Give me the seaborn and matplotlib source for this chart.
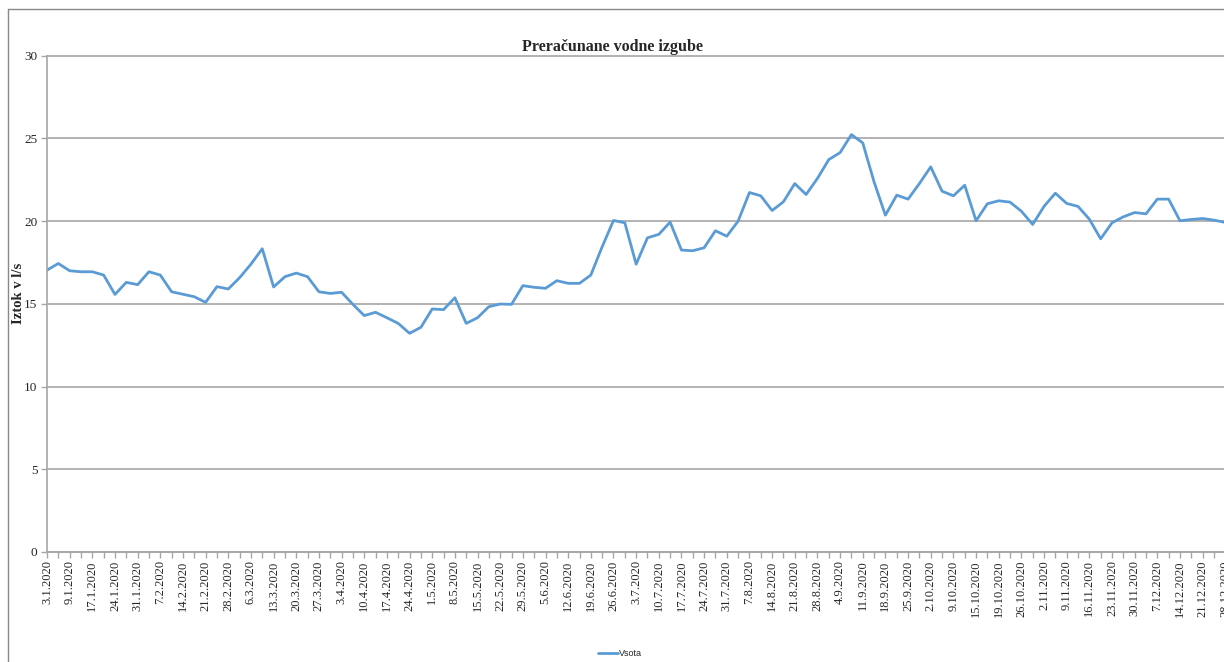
import numpy as np
import pandas as pd
import matplotlib
matplotlib.use('Agg')
import matplotlib.pyplot as plt
from matplotlib.lines import Line2D
import seaborn as sns

# Category labels shown on the axis (every second point is labelled)
date_labels = ['3.1.2020', '9.1.2020', '17.1.2020', '24.1.2020', '31.1.2020', '7.2.2020',
               '14.2.2020', '21.2.2020', '28.2.2020', '6.3.2020', '13.3.2020', '20.3.2020',
               '27.3.2020', '3.4.2020', '10.4.2020', '17.4.2020', '24.4.2020', '1.5.2020',
               '8.5.2020', '15.5.2020', '22.5.2020', '29.5.2020', '5.6.2020', '12.6.2020',
               '19.6.2020', '26.6.2020', '3.7.2020', '10.7.2020', '17.7.2020', '24.7.2020',
               '31.7.2020', '7.8.2020', '14.8.2020', '21.8.2020', '28.8.2020', '4.9.2020',
               '11.9.2020', '18.9.2020', '25.9.2020', '2.10.2020', '9.10.2020', '15.10.2020',
               '19.10.2020', '26.10.2020', '2.11.2020', '9.11.2020', '16.11.2020', '23.11.2020',
               '30.11.2020', '7.12.2020', '14.12.2020', '21.12.2020', '28.12.2020']

# Vsota (l/s)
vsota = [17.04, 17.44, 17.00, 16.94, 16.94, 16.74, 15.57, 16.30, 16.16, 16.94,
         16.74, 15.73, 15.58, 15.43, 15.09, 16.04, 15.90, 16.58, 17.40, 18.33,
         16.02, 16.64, 16.86, 16.64, 15.73, 15.63, 15.70, 14.97, 14.29, 14.49,
         14.16, 13.82, 13.22, 13.58, 14.69, 14.65, 15.37, 13.82, 14.16, 14.83,
         14.99, 14.97, 16.10, 16.00, 15.94, 16.40, 16.24, 16.24, 16.74, 18.45,
         20.04, 19.90, 17.40, 18.99, 19.20, 19.94, 18.25, 18.21, 18.39, 19.42,
         19.09, 20.00, 21.73, 21.53, 20.64, 21.17, 22.27, 21.61, 22.58, 23.72,
         24.14, 25.23, 24.73, 22.37, 20.36, 21.57, 21.33, 22.27, 23.28, 21.81,
         21.53, 22.17, 20.02, 21.05, 21.23, 21.15, 20.60, 19.80, 20.89, 21.69,
         21.07, 20.89, 20.12, 18.93, 19.90, 20.26, 20.52, 20.44, 21.33, 21.33,
         20.02, 20.10, 20.16, 20.06, 19.92]

df = pd.DataFrame({'idx': np.arange(len(vsota)), 'Vsota': vsota})

sns.set_style('white')
plt.rcParams['font.family'] = ['Liberation Serif', 'DejaVu Serif']

W, H = 1224, 662
fig = plt.figure(figsize=(W / 100, H / 100), dpi=100)
ax = fig.add_axes([47 / W, 1 - 552 / H, (1225.3 - 47) / W, (552 - 55.7) / H])

line_color = '#5B9BD5'
grid_color = '#A6A6A6'

sns.lineplot(data=df, x='idx', y='Vsota', ax=ax, color=line_color, linewidth=2, legend=False)

ax.set_xlim(0, len(vsota) - 1)
ax.set_ylim(0, 30)
ax.set_yticks(range(0, 31, 5))
ax.set_yticklabels([str(v) for v in range(0, 31, 5)], fontsize=9.5)
ax.yaxis.grid(True, color=grid_color, linewidth=1.2)
ax.xaxis.grid(False)
for gl in ax.get_ygridlines():
    gl.set_clip_on(False)

ax.set_xticks(range(0, len(vsota), 2))
ax.set_xticklabels(date_labels, rotation=90, fontsize=9)
ax.set_xticks(range(1, len(vsota), 2), minor=True)
ax.tick_params(axis='x', which='both', direction='out', length=4, width=1,
               color=grid_color, pad=2, bottom=True)
ax.tick_params(axis='y', direction='out', length=4, width=1, color=grid_color, pad=3, left=True)

for side in ['top', 'right']:
    ax.spines[side].set_visible(False)
for side in ['left', 'bottom']:
    ax.spines[side].set_color(grid_color)
    ax.spines[side].set_linewidth(1.2)

ax.set_xlabel('')
ax.set_ylabel('')

fig.text(612 / W, 1 - 47 / H, 'Preračunane vodne izgube', ha='center', va='center',
         fontsize=11.5, fontweight='bold')
fig.text(18 / W, 1 - 293 / H, 'Iztok v l/s', ha='center', va='center', rotation=90,
         fontsize=10.5, fontweight='bold')

# legend at bottom centre
fig.legend(handles=[Line2D([0], [0], color=line_color, linewidth=2)], labels=['Vsota'],
           loc='center', bbox_to_anchor=(620 / W, 1 - 654 / H), frameon=False,
           prop={'family': 'Liberation Sans', 'size': 6.5}, handlelength=2.2,
           handletextpad=0.1)

# outer chart border (cropped)
fig.add_artist(Line2D([7.5 / W, 1], [1 - 9.3 / H, 1 - 9.3 / H], color='#888888', linewidth=1))
fig.add_artist(Line2D([7.5 / W, 7.5 / W], [0, 1 - 9.3 / H], color='#888888', linewidth=1))

fig.savefig('out.png', dpi=100)
